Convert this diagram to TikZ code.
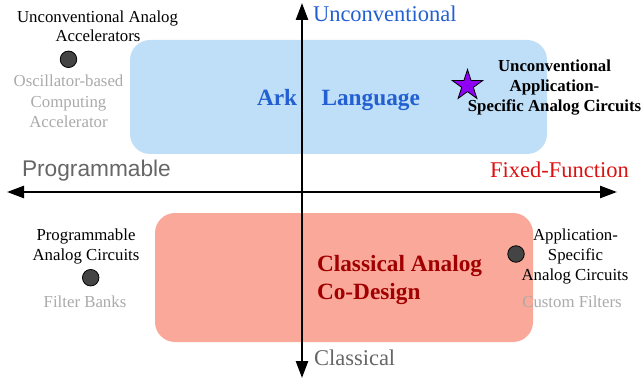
\documentclass[tikz,border=0pt]{standalone}
\usepackage{fontspec}
\setmainfont{Liberation Serif}
\setsansfont{Liberation Sans}
\usetikzlibrary{arrows.meta,shapes.geometric}
\definecolor{boxblue}{HTML}{BFDEF8}
\definecolor{boxred}{HTML}{FAA89A}
\definecolor{txtblue}{HTML}{2260D2}
\definecolor{txtred}{HTML}{DD1111}
\definecolor{darkred}{HTML}{A00000}
\definecolor{axgrey}{HTML}{666666}
\definecolor{lightgrey}{HTML}{AAAAAA}
\definecolor{dotgrey}{HTML}{444444}
\definecolor{starpurple}{HTML}{8F00F5}
\begin{document}
\begin{tikzpicture}[x=1pt,y=-1pt,
  every node/.style={inner sep=0pt, outer sep=0pt},
  region/.style={rounded corners=20pt},
  axisline/.style={line width=2.5pt, {Triangle[length=17pt,width=12pt]}-{Triangle[length=17pt,width=12pt]}},
  small/.style={font=\fontsize{16.8}{20}\selectfont, anchor=base},
  smallbold/.style={font=\fontsize{16.8}{20}\selectfont\bfseries, anchor=base},
  smallgrey/.style={small, text=lightgrey},
  big/.style={font=\fontsize{22.5}{27}\selectfont, anchor=base west},
  bigbold/.style={font=\fontsize{23.3}{28}\selectfont\bfseries, anchor=base west},
  dot/.style={circle, minimum size=16.5pt, fill=dotgrey, draw=black, line width=0.8pt},
]
\useasboundingbox (0,0) rectangle (644,379);
% regions
\fill[boxblue, region] (130,40) rectangle (547,154);
\fill[boxred, region] (155,213) rectangle (533,342);
% axes
\coordinate (top) at (302,3);
\coordinate (bot) at (302,378);
\coordinate (left) at (7,192);
\coordinate (right) at (617,192);
\draw[axisline] (top) -- (bot);
\draw[axisline] (left) -- (right);
% axis labels
\node[big, text=txtblue] (lunc) at (313,22) {Unconventional};
\node[big, text=txtred] (lfix) at (490,178) {Fixed-Function};
\node[big, text=axgrey] (lcla) at (314,365) {Classical};
\node[font=\fontsize{22.7}{26}\selectfont\sffamily, anchor=base west, text=axgrey] (lprog) at (22,176.7) {Programmable};
% region labels
\node[bigbold, text=txtblue] (ark) at (257,106) {Ark};
\node[bigbold, text=txtblue] (lang) at (321.5,106) {Language};
\node[bigbold, text=darkred] (cad1) at (317,271.7) {Classical Analog};
\node[bigbold, text=darkred] (cad2) at (317,299.3) {Co-Design};
% top-left
\node[small] (tl1) at (97.5,22.7) {Unconventional Analog};
\node[small] (tl2) at (98,41.7) {Accelerators};
\node[dot] (d1) at (68.5,59.3) {};
\node[smallgrey] (tg1) at (68.5,87) {Oscillator-based};
\node[smallgrey] (tg2) at (68.5,107.5) {Computing};
\node[smallgrey] (tg3) at (68.5,128) {Accelerator};
% top-right
\node[star, star points=5, star point ratio=2.618, minimum size=32pt, fill=starpurple, draw=black, line width=0.8pt] (st) at (467.5,85.5) {};
\node[smallbold] (tr1) at (554.5,71.7) {Unconventional};
\node[smallbold] (tr2) at (554.5,91.7) {Application-};
\node[smallbold] (tr3) at (554.5,111.7) {Specific Analog Circuits};
% bottom-left
\node[small] (bl1) at (86,240) {Programmable};
\node[small] (bl2) at (86,260) {Analog Circuits};
\node[dot] (d2) at (90.7,277.7) {};
\node[smallgrey] (bg1) at (85,307.7) {Filter Banks};
% bottom-right
\node[small] (br1) at (575.5,240) {Application-};
\node[small] (br2) at (575.5,260) {Specific};
\node[small] (br3) at (575,280) {Analog Circuits};
\node[dot] (d3) at (516,254) {};
\node[smallgrey] (brg) at (572,307.7) {Custom Filters};
\end{tikzpicture}
\end{document}
